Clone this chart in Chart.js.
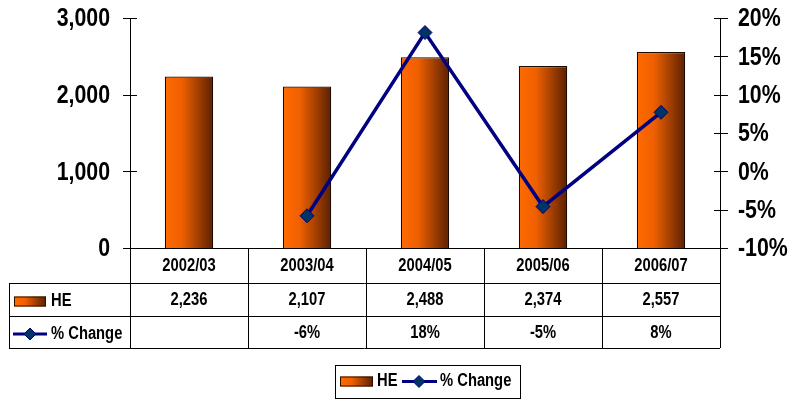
<!DOCTYPE html>
<html>
<head>
<meta charset="utf-8">
<script src="https://cdn.jsdelivr.net/npm/chart.js@4.4.1/dist/chart.umd.min.js"></script>
<style>
  html, body { margin: 0; padding: 0; background: #fff; }
  #wrap { width: 789px; height: 400px; position: relative; }
</style>
</head>
<body>
<div id="wrap"><canvas id="c" width="789" height="400"></canvas></div>
<script>
const categories = ['2002/03', '2003/04', '2004/05', '2005/06', '2006/07'];
const heValues = [2236, 2107, 2488, 2374, 2557];
const pctChange = [null, -5.8, 18.1, -4.6, 7.7];
const seriesNames = ['HE', '% Change'];

const FONT = '"Liberation Sans", Arial, sans-serif';
const NARROW = 0.82;
const LINE_COLOR = '#000080';
const MARKER_FILL = '#003366';

function barGradient(ctx, x0, x1) {
  const g = ctx.createLinearGradient(x0, 0, x1, 0);
  g.addColorStop(0, '#FF6A00');
  g.addColorStop(0.35, '#F06000');
  g.addColorStop(1, '#5A2000');
  return g;
}

function narrowText(ctx, text, x, y, size, align) {
  ctx.save();
  ctx.translate(x, y);
  ctx.scale(NARROW, 1);
  ctx.font = 'bold ' + size + 'px ' + FONT;
  ctx.textAlign = align;
  ctx.textBaseline = 'middle';
  ctx.fillStyle = '#000';
  ctx.fillText(text, 0, 0);
  ctx.restore();
}

function drawDiamond(ctx, x, y, r) {
  ctx.beginPath();
  ctx.moveTo(x, y - r);
  ctx.lineTo(x + r, y);
  ctx.lineTo(x, y + r);
  ctx.lineTo(x - r, y);
  ctx.closePath();
  ctx.fillStyle = MARKER_FILL;
  ctx.fill();
  ctx.strokeStyle = LINE_COLOR;
  ctx.lineWidth = 1;
  ctx.stroke();
}

const tablePlugin = {
  id: 'dataTable',
  afterDraw(chart) {
    const ctx = chart.ctx;
    const area = chart.chartArea;
    const xs = chart.scales.x;
    const n = categories.length;
    const step = (area.right - area.left) / n;
    const top = area.bottom;
    const r1 = top + 35, r2 = top + 68, r3 = top + 100;
    const leftX = 9;
    ctx.save();
    ctx.strokeStyle = '#000';
    ctx.lineWidth = 1;
    // axis tick marks and labels
    const yl = chart.scales.y, yr = chart.scales.y1;
    ctx.beginPath();
    yl.ticks.forEach(t => { const y = Math.round(yl.getPixelForValue(t.value)) + 0.5; ctx.moveTo(area.left - 7, y); ctx.lineTo(area.left + 7, y); });
    yr.ticks.forEach(t => { const y = Math.round(yr.getPixelForValue(t.value)) + 0.5; ctx.moveTo(area.right - 6, y); ctx.lineTo(area.right + 8, y); });
    ctx.stroke();
    yl.ticks.forEach(t => narrowText(ctx, t.value.toLocaleString('en-US'), 110, yl.getPixelForValue(t.value) + 1, 26, 'right'));
    yr.ticks.forEach(t => narrowText(ctx, t.value + '%', 738, yr.getPixelForValue(t.value) + 1, 26, 'left'));
    // table grid
    ctx.strokeStyle = '#000';
    ctx.lineWidth = 1;
    ctx.beginPath();
    ctx.moveTo(area.left, top + 0.5); ctx.lineTo(area.right, top + 0.5);
    [r1, r2, r3].forEach(y => { ctx.moveTo(leftX, y + 0.5); ctx.lineTo(area.right, y + 0.5); });
    ctx.moveTo(leftX + 0.5, r1); ctx.lineTo(leftX + 0.5, r3);
    for (let i = 0; i <= n; i++) {
      const x = Math.round(area.left + step * i) + 0.5;
      ctx.moveTo(x, top); ctx.lineTo(x, r3);
    }
    ctx.stroke();
    // cell texts
    categories.forEach((c, i) => {
      const cx = xs.getPixelForValue(i);
      narrowText(ctx, c, cx, (top + r1) / 2 + 1, 18, 'center');
      narrowText(ctx, heValues[i].toLocaleString('en-US'), cx, (r1 + r2) / 2 + 1, 18, 'center');
      if (pctChange[i] !== null) narrowText(ctx, Math.round(pctChange[i]) + '%', cx, (r2 + r3) / 2 + 1, 18, 'center');
    });
    // row labels
    const yHE = (r1 + r2) / 2 + 2, yPC = (r2 + r3) / 2 + 2;
    ctx.fillStyle = barGradient(ctx, 14, 46);
    ctx.fillRect(14, yHE - 5, 32, 10);
    ctx.strokeStyle = '#2b1000'; ctx.lineWidth = 1;
    ctx.strokeRect(14.5, yHE - 4.5, 31, 9);
    narrowText(ctx, seriesNames[0], 51, yHE, 18, 'left');
    ctx.strokeStyle = LINE_COLOR; ctx.lineWidth = 3;
    ctx.beginPath(); ctx.moveTo(13, yPC); ctx.lineTo(47, yPC); ctx.stroke();
    drawDiamond(ctx, 30, yPC, 6);
    narrowText(ctx, seriesNames[1], 51, yPC, 18, 'left');
    // bottom legend
    const lx0 = 335, lx1 = 520, ly0 = 365, ly1 = 398;
    ctx.strokeStyle = '#000'; ctx.lineWidth = 1;
    ctx.strokeRect(lx0 + 0.5, ly0 + 0.5, lx1 - lx0, ly1 - ly0);
    const ly = (ly0 + ly1) / 2;
    ctx.fillStyle = barGradient(ctx, 340, 373);
    ctx.fillRect(340, ly - 5, 33, 10);
    ctx.strokeStyle = '#2b1000';
    ctx.strokeRect(340.5, ly - 4.5, 32, 9);
    narrowText(ctx, seriesNames[0], 377, ly, 18, 'left');
    ctx.strokeStyle = LINE_COLOR; ctx.lineWidth = 3;
    ctx.beginPath(); ctx.moveTo(402, ly); ctx.lineTo(437, ly); ctx.stroke();
    drawDiamond(ctx, 419, ly, 6);
    narrowText(ctx, seriesNames[1], 440, ly, 18, 'left');
    ctx.restore();
  }
};

new Chart(document.getElementById('c'), {
  data: {
    labels: categories,
    datasets: [
      {
        type: 'line',
        label: seriesNames[1],
        data: pctChange,
        yAxisID: 'y1',
        borderColor: LINE_COLOR,
        borderWidth: 3.5,
        pointStyle: 'rectRot',
        pointRadius: 7,
        pointBackgroundColor: MARKER_FILL,
        pointBorderColor: LINE_COLOR,
        pointBorderWidth: 1,
        spanGaps: false,
        tension: 0
      },
      {
        type: 'bar',
        label: seriesNames[0],
        data: heValues,
        yAxisID: 'y',
        categoryPercentage: 1,
        barPercentage: 0.41,
        borderColor: '#1a0a00',
        borderWidth: 1.2,
        borderSkipped: 'bottom',
        backgroundColor: (context) => {
          const chart = context.chart;
          const area = chart.chartArea;
          if (!area || !chart.scales.x) return '#F06000';
          const step = (area.right - area.left) / categories.length;
          const cx = chart.scales.x.getPixelForValue(context.dataIndex);
          const hw = step * 0.41 / 2;
          return barGradient(chart.ctx, cx - hw, cx + hw);
        }
      }
    ]
  },
  options: {
    responsive: false,
    animation: false,
    devicePixelRatio: 1,
    layout: { padding: { top: 18, bottom: 152, left: 0, right: 0 } },
    plugins: { legend: { display: false }, tooltip: { enabled: false } },
    scales: {
      x: { display: false, offset: true },
      y: {
        position: 'left',
        min: 0, max: 3000,
        ticks: { stepSize: 1000, display: false },
        grid: { display: false },
        border: { display: true, color: '#000', width: 1 },
        afterFit: s => { s.width = 130; }
      },
      y1: {
        position: 'right',
        min: -10, max: 20,
        ticks: { stepSize: 5, display: false },
        grid: { display: false },
        border: { display: true, color: '#000', width: 1 },
        afterFit: s => { s.width = 69; }
      }
    }
  },
  plugins: [tablePlugin]
});
</script>
</body>
</html>
